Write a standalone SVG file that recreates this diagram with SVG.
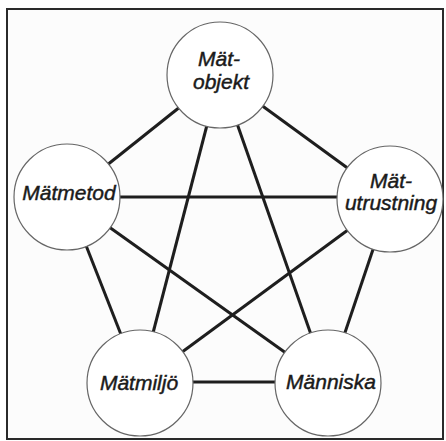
<svg xmlns="http://www.w3.org/2000/svg" width="446" height="441" viewBox="0 0 446 441">
<style>
.frame{fill:#fcfcfc;stroke:#2a2a2a;stroke-width:2}
.edge{stroke:#1e1e1e;stroke-width:3;stroke-linecap:butt}
.node{fill:#ffffff;stroke:#666;stroke-width:1.2}
.lbl{font-family:"Liberation Sans",Arial,sans-serif;font-style:italic;font-size:21px;fill:#1a1a1a;stroke:#1a1a1a;stroke-width:0.45;text-anchor:middle}
</style>
<rect x="0" y="0" width="446" height="441" fill="#ffffff"/>
<rect class="frame" x="7" y="9" width="436" height="430"/>
<g id="connectors">
<line class="edge" x1="220" y1="75" x2="67" y2="197"/>
<line class="edge" x1="220" y1="75" x2="390" y2="199"/>
<line class="edge" x1="220" y1="75" x2="140" y2="383"/>
<line class="edge" x1="220" y1="75" x2="328" y2="383"/>
<line class="edge" x1="67" y1="197" x2="390" y2="197"/>
<line class="edge" x1="67" y1="197" x2="140" y2="383"/>
<line class="edge" x1="67" y1="197" x2="328" y2="383"/>
<line class="edge" x1="390" y1="199" x2="140" y2="383"/>
<line class="edge" x1="390" y1="199" x2="328" y2="383"/>
<line class="edge" x1="140" y1="382" x2="328" y2="382"/>
</g>
<g id="matobjekt">
<circle class="node" cx="220" cy="75" r="53"/>
<text class="lbl" x="219" y="66">Mät-</text>
<text class="lbl" x="221" y="89">objekt</text>
</g>
<g id="matmetod">
<circle class="node" cx="67" cy="197" r="53"/>
<text class="lbl" x="69" y="200">Mätmetod</text>
</g>
<g id="matutrustning">
<circle class="node" cx="390" cy="199" r="53"/>
<text class="lbl" x="391" y="188">Mät-</text>
<text class="lbl" x="391" y="210">utrustning</text>
</g>
<g id="matmiljo">
<circle class="node" cx="140" cy="383" r="53"/>
<text class="lbl" x="139" y="390">Mätmiljö</text>
</g>
<g id="manniska">
<circle class="node" cx="328" cy="383" r="53"/>
<text class="lbl" x="331" y="389">Människa</text>
</g>
</svg>
